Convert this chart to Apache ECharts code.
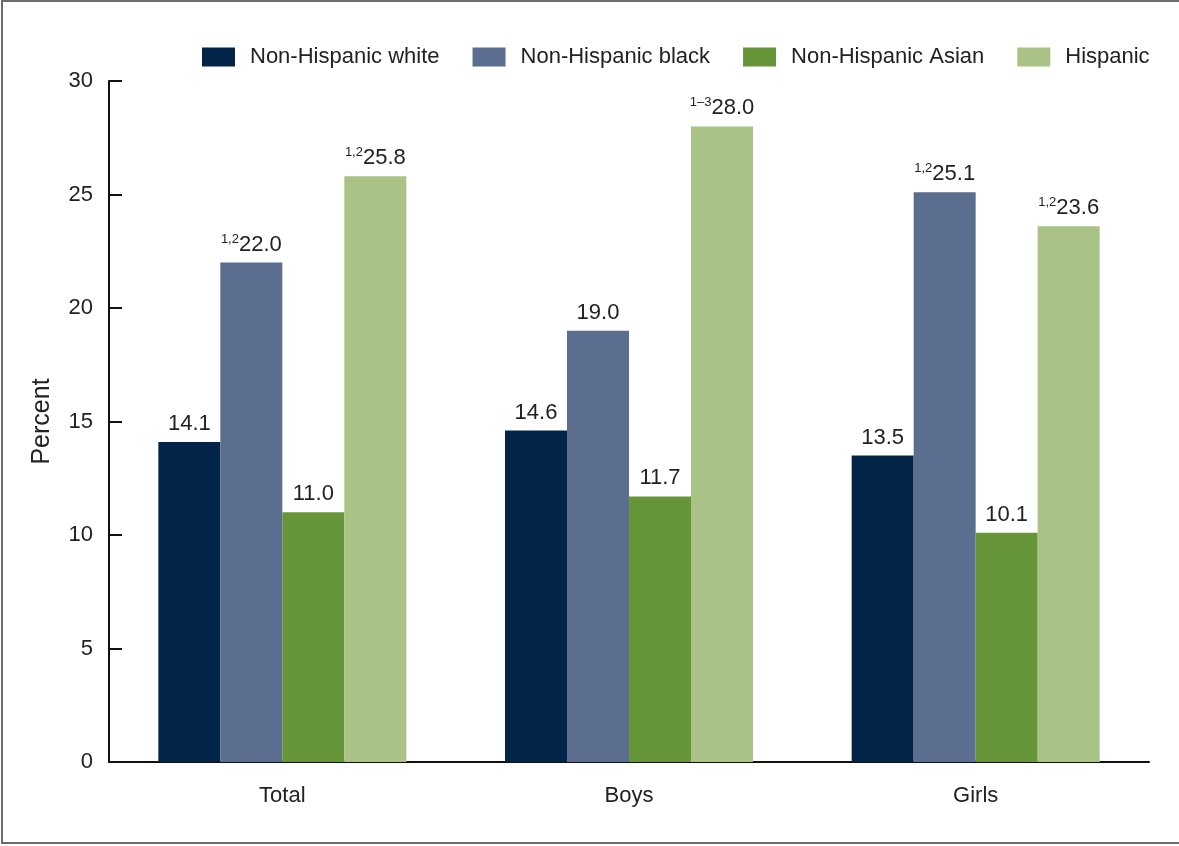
<!DOCTYPE html>
<html>
<head>
<meta charset="utf-8">
<script src="https://cdn.jsdelivr.net/npm/echarts@6/dist/echarts.min.js"></script>
<style>
  html, body { margin: 0; padding: 0; background: #fff; }
  #chart { width: 1179px; height: 846px; }
</style>
</head>
<body>
<div id="chart"></div>
<script>
const categories = ['Total', 'Boys', 'Girls'];
const seriesNames = ['Non-Hispanic white', 'Non-Hispanic black', 'Non-Hispanic Asian', 'Hispanic'];
const seriesColors = ['#022448', '#5c6e8f', '#66953a', '#a9c286'];

const whiteValues = [14.1, 14.6, 13.5];
const blackValues = [22.0, 19.0, 25.1];
const asianValues = [11.0, 11.7, 10.1];
const hispanicValues = [25.8, 28.0, 23.6];

// footnote markers printed before the value
const whiteNotes = ['', '', ''];
const blackNotes = ['1,2', '', '1,2'];
const asianNotes = ['', '', ''];
const hispanicNotes = ['1,2', '1\u20133', '1,2'];

const yTicks = [0, 5, 10, 15, 20, 25, 30];

const allValues = [whiteValues, blackValues, asianValues, hispanicValues];
const allNotes = [whiteNotes, blackNotes, asianNotes, hispanicNotes];

const textColor = '#222';
const font = '"Liberation Sans", Arial, sans-serif';

const chart = echarts.init(document.getElementById('chart'));

const series = seriesNames.map((name, i) => ({
  name,
  type: 'bar',
  barWidth: 62,
  barGap: '0%',
  itemStyle: { color: seriesColors[i] },
  data: allValues[i].map((v, j) => ({ value: v, note: allNotes[i][j] })),
  label: {
    show: true,
    position: 'top',
    distance: 6,
    formatter: (p) => {
      const val = p.value.toFixed(1);
      return p.data.note ? `{sup|${p.data.note}}{val|${val}}` : `{val|${val}}`;
    },
    rich: {
      val: { fontSize: 22, fontFamily: font, color: textColor, lineHeight: 24 },
      sup: { fontSize: 13, fontFamily: font, color: textColor, verticalAlign: 'top', lineHeight: 13 },
    },
  },
}));

chart.setOption({
  animation: false,
  textStyle: { fontFamily: font },
  graphic: [
    {
      type: 'rect',
      shape: { x: 2, y: 1, width: 1200, height: 842 },
      style: { fill: 'none', stroke: '#6b6b6b', lineWidth: 2 },
      silent: true,
    },
  ],
  legend: {
    left: 197,
    top: 41,
    itemWidth: 33,
    itemHeight: 19,
    itemGap: 33,
    icon: 'rect',
    textStyle: { fontSize: 22, color: textColor, fontFamily: font, padding: [0, 0, 0, 10] },
    data: seriesNames,
  },
  grid: { left: 109, right: 30, top: 81, bottom: 84, containLabel: false },
  xAxis: {
    type: 'category',
    data: categories,
    axisLine: { lineStyle: { color: '#111', width: 2 } },
    axisTick: { show: false },
    axisLabel: { fontSize: 22, color: textColor, margin: 23 },
  },
  yAxis: {
    type: 'value',
    min: yTicks[0],
    max: yTicks[yTicks.length - 1],
    interval: 5,
    name: 'Percent',
    nameLocation: 'middle',
    nameRotate: 90,
    nameGap: 54,
    nameTextStyle: { fontSize: 25, color: textColor },
    axisLine: { show: true, lineStyle: { color: '#111', width: 2 } },
    axisTick: { show: true, inside: true, length: 13, lineStyle: { color: '#111', width: 2 } },
    axisLabel: { fontSize: 22, color: textColor, margin: 16 },
    splitLine: { show: false },
  },
  series,
});
</script>
</body>
</html>
